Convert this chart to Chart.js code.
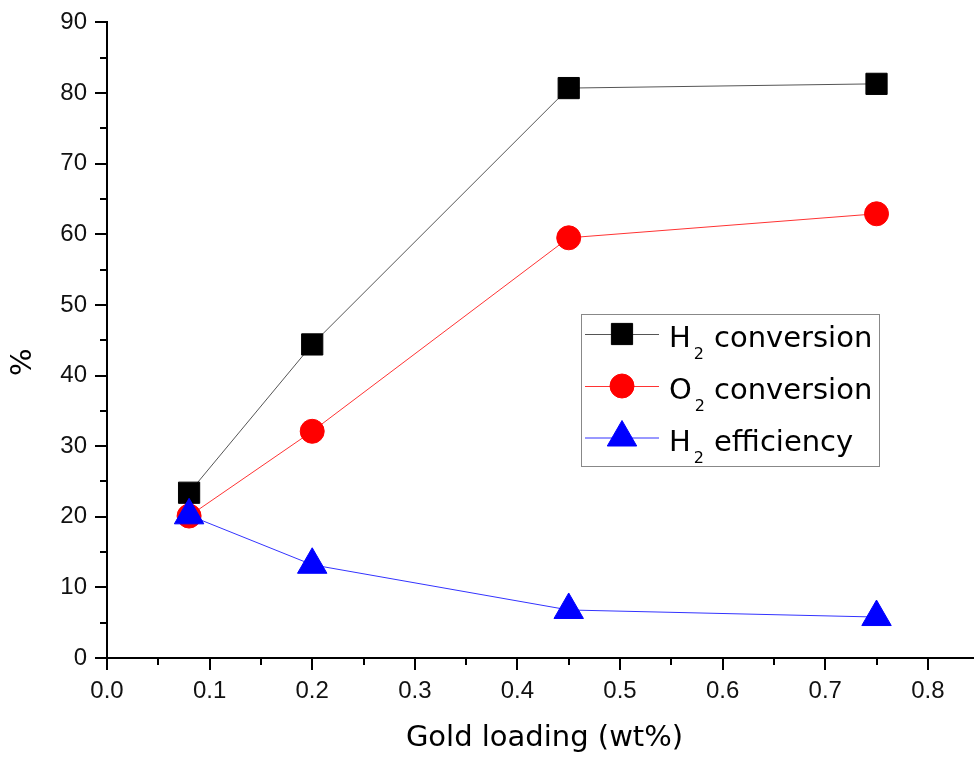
<!DOCTYPE html>
<html><head><meta charset="utf-8">
<script src="https://cdn.jsdelivr.net/npm/chart.js@4.4.0/dist/chart.umd.min.js"></script>
<style>html,body{margin:0;padding:0;background:#fff}#wrap{width:974px;height:758px}</style>
</head><body><div id="wrap"><canvas id="c" width="974" height="758"></canvas></div>
<script>
const goldLoading = [0.08, 0.2, 0.45, 0.75];
const h2Conversion = [23.4, 44.4, 80.7, 81.3];
const o2Conversion = [20.1, 32.1, 59.5, 62.9];
const h2Efficiency = [20.2, 13.2, 6.8, 5.8];
const seriesLabels = ['H₂ conversion', 'O₂ conversion', 'H₂ efficiency'];
const legendParts = [['H', '2', 'conversion'], ['O', '2', 'conversion'], ['H', '2', 'efficiency']];
const xTitle = 'Gold loading (wt%)';
const yTitle = '%';

const toPts = ys => goldLoading.map((x, i) => ({x: x, y: ys[i]}));
const tickFont = {family: 'Liberation Sans', size: 24};
const titleFamily = 'DejaVu Sans';

const minorTicks = {
  id: 'minorTicks',
  afterDraw(chart) {
    const ctx = chart.ctx, xs = chart.scales.x, ys = chart.scales.y;
    ctx.save();
    ctx.strokeStyle = '#000';
    ctx.lineWidth = 2;
    ctx.beginPath();
    for (let k = 0; (2 * k + 1) * 0.05 < xs.max; k++) {
      const px = Math.round(xs.getPixelForValue((2 * k + 1) * 0.05));
      ctx.moveTo(px, xs.top);
      ctx.lineTo(px, xs.top + 7);
    }
    for (let k = 0; (2 * k + 1) * 5 < ys.max; k++) {
      const py = Math.round(ys.getPixelForValue((2 * k + 1) * 5));
      ctx.moveTo(ys.right - 7, py);
      ctx.lineTo(ys.right, py);
    }
    ctx.stroke();
    ctx.restore();
  }
};

const titlesPlugin = {
  id: 'axisTitles',
  afterDraw(chart) {
    const ctx = chart.ctx, a = chart.chartArea;
    ctx.save();
    ctx.font = '29px "' + titleFamily + '"';
    ctx.fillStyle = '#000';
    ctx.textAlign = 'center';
    ctx.textBaseline = 'alphabetic';
    ctx.fillText(xTitle, (a.left + a.right) / 2 + 4, a.bottom + 88);
    ctx.translate(23, (a.top + a.bottom) / 2 + 22);
    ctx.rotate(-Math.PI / 2);
    ctx.textBaseline = 'middle';
    ctx.fillText(yTitle, 0, 0);
    ctx.restore();
  }
};

const customLegend = {
  id: 'customLegend',
  afterDraw(chart) {
    const ctx = chart.ctx;
    const bx = 581, by = 314, bw = 298, bh = 152;
    const rows = [334, 386, 437.5];
    ctx.save();
    ctx.strokeStyle = '#888';
    ctx.lineWidth = 1;
    ctx.strokeRect(bx + 0.5, by + 0.5, bw, bh);
    chart.data.datasets.forEach((ds, i) => {
      const y = rows[i];
      ctx.strokeStyle = ds.borderColor;
      ctx.lineWidth = 1;
      ctx.beginPath();
      ctx.moveTo(bx + 4, y + 0.5);
      ctx.lineTo(bx + 78, y + 0.5);
      ctx.stroke();
      ctx.fillStyle = ds.pointBackgroundColor;
      ctx.strokeStyle = ds.pointBorderColor;
      ctx.lineWidth = ds.pointBorderWidth;
      Chart.helpers.drawPoint(ctx, {pointStyle: ds.pointStyle, radius: ds.pointRadius, rotation: 0, borderWidth: ds.pointBorderWidth}, bx + 41, y);
      const parts = legendParts[i];
      ctx.fillStyle = '#000';
      ctx.textAlign = 'left';
      ctx.textBaseline = 'alphabetic';
      ctx.font = '29px "' + titleFamily + '"';
      ctx.fillText(parts[0], 669, y + 13);
      const w0 = ctx.measureText(parts[0]).width;
      ctx.font = '16px "' + titleFamily + '"';
      ctx.fillText(parts[1], 669 + w0 + 3, y + 25);
      ctx.font = '29px "' + titleFamily + '"';
      ctx.fillText(parts[2], 714, y + 13);
    });
    ctx.restore();
  }
};

new Chart(document.getElementById('c'), {
  type: 'line',
  data: {
    datasets: [
      {label: seriesLabels[0], data: toPts(h2Conversion), borderColor: '#555', borderWidth: 1,
       pointStyle: 'rect', pointRadius: 15, pointHoverRadius: 15, pointBorderWidth: 1,
       pointBackgroundColor: '#000', pointBorderColor: '#000', order: 3},
      {label: seriesLabels[1], data: toPts(o2Conversion), borderColor: '#f33', borderWidth: 1,
       pointStyle: 'circle', pointRadius: 12, pointHoverRadius: 12, pointBorderWidth: 1,
       pointBackgroundColor: '#f00', pointBorderColor: '#f00', order: 2},
      {label: seriesLabels[2], data: toPts(h2Efficiency), borderColor: '#33f', borderWidth: 1,
       pointStyle: 'triangle', pointRadius: 17, pointHoverRadius: 17, pointBorderWidth: 1,
       pointBackgroundColor: '#00f', pointBorderColor: '#00f', order: 1}
    ]
  },
  options: {
    responsive: false,
    animation: false,
    devicePixelRatio: 1,
    layout: {autoPadding: false, padding: {top: 22, left: 0, right: 0, bottom: 0}},
    plugins: {legend: {display: false}, tooltip: {enabled: false}, title: {display: false}},
    scales: {
      x: {
        type: 'linear', position: 'bottom', min: 0, max: 0.845,
        afterFit: s => { s.height = 100; s.paddingRight = 0; s.paddingLeft = 0; },
        ticks: {stepSize: 0.1, includeBounds: false, autoSkip: false, maxRotation: 0,
                callback: v => Number(v).toFixed(1), font: tickFont, color: '#111', padding: 7},
        grid: {drawOnChartArea: false, tickLength: 12, lineWidth: 2, color: '#000'},
        border: {display: true, width: 2, color: '#000'},
        title: {display: false}
      },
      y: {
        type: 'linear', min: 0, max: 90,
        afterFit: s => { s.width = 107; },
        ticks: {stepSize: 10, font: tickFont, color: '#111', padding: 8},
        grid: {drawOnChartArea: false, tickLength: 12, lineWidth: 2, color: '#000'},
        border: {display: true, width: 2, color: '#000'},
        title: {display: false}
      }
    }
  },
  plugins: [minorTicks, titlesPlugin, customLegend]
});
</script></body></html>
